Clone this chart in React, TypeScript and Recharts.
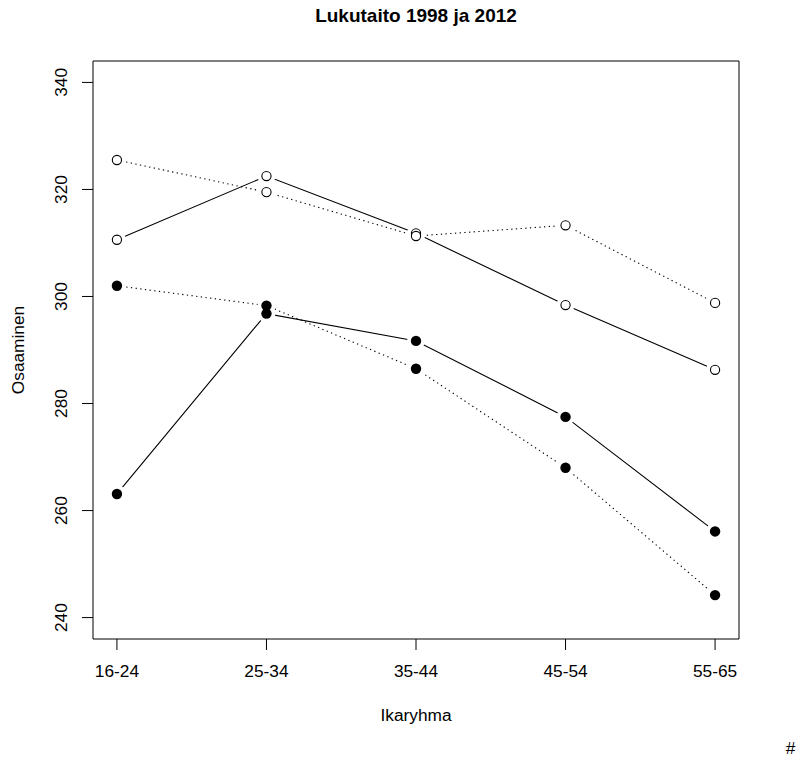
import { LineChart, Line, XAxis, YAxis, ReferenceArea } from "recharts";

const ageGroups = ["16-24", "25-34", "35-44", "45-54", "55-65"];
const yTicks = [240, 260, 280, 300, 320, 340];

// open circles
const openSolid = [310.6, 322.5, 311.8, 298.4, 286.3];
const openDotted = [325.5, 319.5, 311.3, 313.3, 298.8];
// filled circles
const filledSolid = [263.1, 296.8, 291.7, 277.5, 256.1];
const filledDotted = [302.0, 298.3, 286.5, 268.0, 244.2];

const data = ageGroups.map((g, i) => ({
  x: i + 1,
  name: g,
  openSolid: openSolid[i],
  openDotted: openDotted[i],
  filledSolid: filledSolid[i],
  filledDotted: filledDotted[i],
}));

const FONT = "'Liberation Sans', Arial, Helvetica, sans-serif";

const series = [
  { key: "openSolid", dash: undefined, filled: false },
  { key: "openDotted", dash: "1.3 3.4", filled: false },
  { key: "filledSolid", dash: undefined, filled: true },
  { key: "filledDotted", dash: "1.3 3.4", filled: true },
];

const YTick = ({ x, y, payload }: any) => (
  <text
    x={x - 13.3}
    y={y}
    transform={`rotate(-90, ${x - 13.3}, ${y})`}
    textAnchor="middle"
    fontSize={17.3}
    fontFamily={FONT}
    fill="#000"
  >
    {payload.value}
  </text>
);

const Halo = ({ cx, cy }: any) =>
  cx == null ? null : <circle cx={cx} cy={cy} r={9} fill="#fff" stroke="none" />;

const OpenDot = ({ cx, cy }: any) =>
  cx == null ? null : (
    <circle cx={cx} cy={cy} r={4.6} fill="#fff" stroke="#000" strokeWidth={1.1} />
  );

const FilledDot = ({ cx, cy }: any) =>
  cx == null ? null : <circle cx={cx} cy={cy} r={5.2} fill="#000" stroke="none" />;

export default function App() {
  return (
    <div
      style={{
        position: "absolute",
        left: 0,
        top: 0,
        width: 796,
        height: 757,
        background: "#fff",
        fontFamily: FONT,
      }}
    >
      <LineChart
        width={796}
        height={757}
        data={data}
        margin={{ top: 61, right: 57, left: 0, bottom: 0 }}
      >
        <XAxis
          type="number"
          dataKey="x"
          domain={[0.84, 5.16]}
          ticks={[1, 2, 3, 4, 5]}
          tickFormatter={(v: number) => ageGroups[v - 1]}
          height={118}
          axisLine={false}
          tickLine={{ stroke: "#000" }}
          tickSize={11}
          tickMargin={15}
          tick={{ fill: "#000", fontSize: 17.3, fontFamily: FONT }}
          allowDataOverflow
          interval={0}
        />
        <YAxis
          type="number"
          domain={[236, 344]}
          ticks={yTicks}
          width={93}
          axisLine={false}
          tickLine={{ stroke: "#000" }}
          tickSize={11}
          tick={<YTick />}
          allowDataOverflow
          interval={0}
        />
        <ReferenceArea
          x1={0.84}
          x2={5.16}
          y1={236}
          y2={344}
          fill="none"
          stroke="#000"
          strokeWidth={1}
          ifOverflow="visible"
        />
        {series.map((s) => (
          <Line
            key={"line-" + s.key}
            dataKey={s.key}
            stroke="#000"
            strokeWidth={1.1}
            strokeDasharray={s.dash}
            dot={false}
            activeDot={false}
            isAnimationActive={false}
            legendType="none"
          />
        ))}
        {series.map((s) => (
          <Line
            key={"halo-" + s.key}
            dataKey={s.key}
            stroke="none"
            dot={<Halo />}
            activeDot={false}
            isAnimationActive={false}
            legendType="none"
          />
        ))}
        {series.map((s) => (
          <Line
            key={"dot-" + s.key}
            dataKey={s.key}
            stroke="none"
            dot={s.filled ? <FilledDot /> : <OpenDot />}
            activeDot={false}
            isAnimationActive={false}
            legendType="none"
          />
        ))}
      </LineChart>
      <div
        style={{
          position: "absolute",
          left: 0,
          width: 832,
          top: 5,
          textAlign: "center",
          fontSize: 19,
          fontWeight: "bold",
          fontFamily: FONT,
        }}
      >
        Lukutaito 1998 ja 2012
      </div>
      <svg
        width={796}
        height={757}
        style={{ position: "absolute", left: 0, top: 0, pointerEvents: "none" }}
      >
        <text
          x={416}
          y={721}
          textAnchor="middle"
          fontSize={17.3}
          fontFamily={FONT}
          fill="#000"
        >
          Ikaryhma
        </text>
        <text
          x={23.5}
          y={350}
          transform="rotate(-90, 23.5, 350)"
          textAnchor="middle"
          fontSize={17.3}
          fontFamily={FONT}
          fill="#000"
        >
          Osaaminen
        </text>
        <text x={790.5} y={754} textAnchor="middle" fontSize={17.3} fontFamily={FONT} fill="#000">
          #
        </text>
      </svg>
    </div>
  );
}
